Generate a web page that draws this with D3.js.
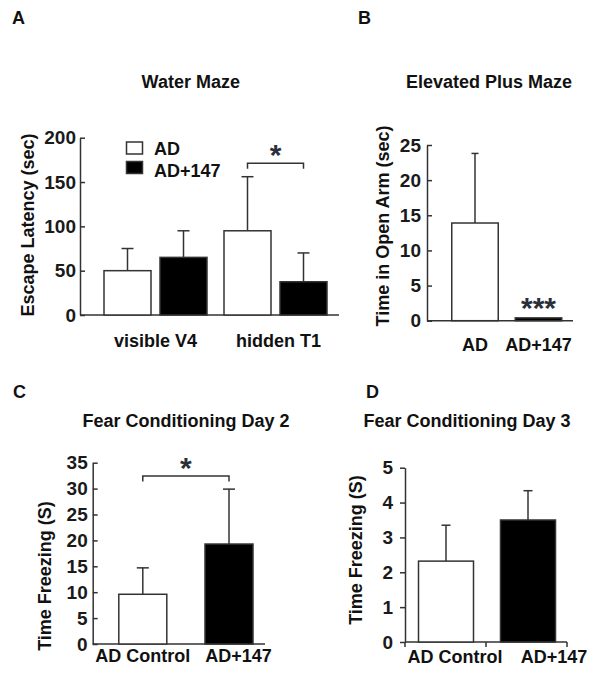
<!DOCTYPE html>
<html><head><meta charset="utf-8">
<script src="https://cdn.jsdelivr.net/npm/d3@7"></script>
<style>
body{margin:0;background:#fff}
svg{display:block}
</style>
</head><body>
<svg id="c" width="600" height="681"></svg>
<script>
// ---------- DATA ----------
// A: Water Maze (escape latency, sec)
const waterCategories = ["visible V4", "hidden T1"];
const waterSeries = ["AD", "AD+147"];
const waterAD = [50, 95];
const waterADErr = [25, 61];
const waterAD147 = [65, 37.5];
const waterAD147Err = [30, 32.5];
const waterTicks = [0, 50, 100, 150, 200];

// B: Elevated Plus Maze (time in open arm, sec)
const epmCategories = ["AD", "AD+147"];
const epmMeans = [13.9, 0.4];
const epmErr = [9.9, 0];
const epmTicks = [0, 5, 10, 15, 20, 25];

// C: Fear Conditioning Day 2 (time freezing, s)
const fc2Categories = ["AD Control", "AD+147"];
const fc2Means = [9.6, 19.3];
const fc2Err = [5.1, 10.6];
const fc2Ticks = [0, 5, 10, 15, 20, 25, 30, 35];

// D: Fear Conditioning Day 3 (time freezing, s)
const fc3Categories = ["AD Control", "AD+147"];
const fc3Means = [2.32, 3.5];
const fc3Err = [1.03, 0.84];
const fc3Ticks = [0, 1, 2, 3, 4, 5];

// ---------- DRAWING ----------
const svg = d3.select("#c");
const INK = "#333";
const FONT = "Arial, 'Liberation Sans', Helvetica, sans-serif";
const colorOf = { "AD": "#fff", "AD+147": "#000", "AD Control": "#fff" };

function txt(g, x, y, s, size, anchor) {
  return g.append("text").attr("x", x).attr("y", y).text(s)
    .style("font-family", FONT).style("font-weight", "bold")
    .style("font-size", size + "px").style("fill", "#111")
    .attr("text-anchor", anchor || "start");
}

function yAxis(g, y, ax, ticks, inward, pad) {
  const a = d3.axisLeft(y).tickValues(ticks)
    .tickSizeInner(inward ? -5 : 5).tickSizeOuter(0).tickPadding(pad)
    .tickFormat(d3.format("d"));
  const ag = g.append("g").attr("transform", `translate(${ax},0)`).call(a);
  ag.selectAll("path, line").attr("stroke", INK).attr("stroke-width", 1.5);
  ag.selectAll("text").style("font-family", FONT).style("font-weight", "bold")
    .style("font-size", "19px").style("fill", "#1a1a1a");
}

function yTitle(g, cx, cy, s) {
  g.append("text").attr("transform", `translate(${cx},${cy}) rotate(-90)`)
    .attr("dy", "0.35em").attr("text-anchor", "middle").text(s)
    .style("font-family", FONT).style("font-weight", "bold")
    .style("font-size", "18px").style("fill", "#111");
}

function baseline(g, x1, x2, y0) {
  g.append("line").attr("x1", x1).attr("x2", x2).attr("y1", y0).attr("y2", y0)
    .attr("stroke", INK).attr("stroke-width", 1.5);
}

function bar(g, cx, w, y, v, e, fill, cap) {
  if (e > 0) {
    g.append("line").attr("x1", cx).attr("x2", cx).attr("y1", y(v)).attr("y2", y(v + e))
      .attr("stroke", INK).attr("stroke-width", 1.5);
    g.append("line").attr("x1", cx - cap / 2).attr("x2", cx + cap / 2)
      .attr("y1", y(v + e)).attr("y2", y(v + e))
      .attr("stroke", INK).attr("stroke-width", 1.5);
  }
  g.append("rect").attr("x", cx - w / 2).attr("y", y(v))
    .attr("width", w).attr("height", y(0) - y(v))
    .attr("fill", fill).attr("stroke", INK).attr("stroke-width", 1.5);
}

function bracket(g, x1, x2, yTop, drop) {
  g.append("path")
    .attr("d", `M${x1},${yTop + drop}V${yTop}H${x2}V${yTop + drop}`)
    .attr("fill", "none").attr("stroke", INK).attr("stroke-width", 1.5);
}

function stars(g, x, yBase, s) {
  g.append("text").attr("x", x).attr("y", yBase).attr("text-anchor", "middle").text(s)
    .style("font-family", FONT).style("font-weight", "bold")
    .style("font-size", "30px").style("fill", "#2a2f3a");
}

// ---- Panel A ----
{
  const g = svg.append("g");
  const y = d3.scaleLinear().domain([0, 200]).range([315, 137.7]);
  const x0 = d3.scalePoint().domain(waterCategories).range([155.5, 275.5]);
  const x1 = d3.scalePoint().domain(waterSeries).range([-28, 28]);
  const vals = { "AD": waterAD, "AD+147": waterAD147 };
  const errs = { "AD": waterADErr, "AD+147": waterAD147Err };
  baseline(g, 80, 339, y(0));
  waterCategories.forEach((c, i) => {
    waterSeries.forEach(s => {
      bar(g, x0(c) + x1(s), 47, y, vals[s][i], errs[s][i], colorOf[s], 12);
    });
    txt(g, x0(c) + (i === 0 ? 0 : 3), 346.7, c, 18, "middle");
  });
  yAxis(g, y, 80, waterTicks, true, 4);
  yTitle(g, 27.5, 225, "Escape Latency (sec)");
  txt(g, 190.8, 87.7, "Water Maze", 18, "middle");
  txt(g, 12, 24, "A", 18);
  // legend
  waterSeries.forEach((s, i) => {
    g.append("rect").attr("x", 126.5).attr("y", 142 + i * 19.5).attr("width", 16).attr("height", 12)
      .attr("fill", colorOf[s]).attr("stroke", INK).attr("stroke-width", 1.5);
    txt(g, 154, 155 + i * 21.7, s, 18);
  });
  // significance
  const hx = x0("hidden T1");
  bracket(g, hx + x1("AD"), hx + x1("AD+147"), 163.3, 5.5);
  stars(g, (hx + x1("AD") + hx + x1("AD+147")) / 2, 164.5, "*");
}

// ---- Panel B ----
{
  const g = svg.append("g");
  const y = d3.scaleLinear().domain([0, 25]).range([320.7, 145]);
  const x = d3.scalePoint().domain(epmCategories).range([475, 538.5]);
  baseline(g, 427, 573, y(0));
  epmCategories.forEach((c, i) => {
    bar(g, x(c), 46.5, y, epmMeans[i], epmErr[i], colorOf[c], 7);
    txt(g, x(c), 351, c, 18, "middle");
  });
  yAxis(g, y, 427, epmTicks, true, 6);
  yTitle(g, 383, 226, "Time in Open Arm (sec)");
  txt(g, 489, 88, "Elevated Plus Maze", 18, "middle");
  txt(g, 358, 24, "B", 18);
  stars(g, x("AD+147"), 318, "***");
}

// ---- Panel C ----
{
  const g = svg.append("g");
  const y = d3.scaleLinear().domain([0, 35]).range([644, 462.7]);
  const x = d3.scalePoint().domain(fc2Categories).range([142.8, 229]);
  baseline(g, 92.7, 265, y(0));
  fc2Categories.forEach((c, i) => {
    bar(g, x(c), 48, y, fc2Means[i], fc2Err[i], colorOf[c], 12);
    txt(g, x(c) + (i === 0 ? 0 : 9.5), 662, c, 18, "middle");
  });
  yAxis(g, y, 92.7, fc2Ticks, true, 5);
  yTitle(g, 45, 576, "Time Freezing (S)");
  txt(g, 186, 427, "Fear Conditioning Day 2", 18, "middle");
  txt(g, 13, 398, "C", 18);
  bracket(g, x("AD Control"), x("AD+147"), 476, 5.5);
  stars(g, (x("AD Control") + x("AD+147")) / 2, 478, "*");
}

// ---- Panel D ----
{
  const g = svg.append("g");
  const y = d3.scaleLinear().domain([0, 5]).range([642, 467.7]);
  const xb = d3.scaleBand().domain(fc3Categories).range([405, 567]);
  baseline(g, 405, 567, y(0));
  // category boundary ticks
  [405, 486, 567].forEach(t => {
    g.append("line").attr("x1", t).attr("x2", t).attr("y1", y(0)).attr("y2", y(0) + 5)
      .attr("stroke", INK).attr("stroke-width", 1.5);
  });
  fc3Categories.forEach((c, i) => {
    const cx = xb(c) + xb.bandwidth() / 2 + (i === 0 ? 0.5 : 1.5);
    bar(g, cx, 55, y, fc3Means[i], fc3Err[i], colorOf[c], 9);
    txt(g, cx + (i === 0 ? 9 : 26), 662.7, c, 18, "middle");
  });
  yAxis(g, y, 405, fc3Ticks, false, 7);
  yTitle(g, 356, 550, "Time Freezing (S)");
  txt(g, 467, 427, "Fear Conditioning Day 3", 18, "middle");
  txt(g, 366, 398, "D", 18);
}
</script>
</body></html>
